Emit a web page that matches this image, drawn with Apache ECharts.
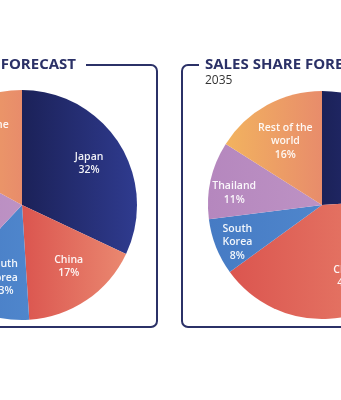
<!DOCTYPE html>
<html>
<head>
<meta charset="utf-8">
<script src="https://cdn.jsdelivr.net/npm/echarts@6/dist/echarts.min.js"></script>
<style>
html,body{margin:0;padding:0;background:#fff;}
#chart{width:341px;height:400px;}
</style>
</head>
<body>
<div id="chart"></div>
<script>
// ---- data ----
const categories = ['Japan', 'China', 'South Korea', 'Thailand', 'Rest of the world'];
const labelNames = ['Japan', 'China', 'South\nKorea', 'Thailand', 'Rest of the\nworld'];
const shareCurrent = [32, 17, 13, 21, 17];
const share2035 = [24, 41, 8, 11, 16];
const titleText = 'SALES SHARE FORECAST';
const subtitle2035 = '2035';

// ---- styles ----
const sliceColors = [
  ['#1b2158', '#2f3b8f'],
  ['#db554f', '#ea8870'],
  ['#467bc4', '#4f86cc'],
  ['#b587be', '#bd92c4'],
  ['#f2b35f', '#e88c6b']
];
const navy = '#2b3167';
const FONT = '"Open Sans", sans-serif';
// small label nudges [dx, dy] per slice (styling only)
const nudgeLeft = [[0, 1], [2, -4], [8, -2], [0, 0], [0, 2]];
const nudgeRight = [[0, 0], [0, 0], [0, 4], [1, 8], [0, 3]];

function grad(i) {
  return {type: 'linear', x: 0, y: 0, x2: 1, y2: 0,
    colorStops: [{offset: 0, color: sliceColors[i][0]}, {offset: 1, color: sliceColors[i][1]}]};
}
function pieData(vals) {
  return categories.map((c, i) => ({name: c, value: vals[i], itemStyle: {color: grad(i)}}));
}
function labelData(vals, showIdx) {
  return categories.map((c, i) => ({
    name: c, value: vals[i],
    label: {show: showIdx.indexOf(i) >= 0}
  }));
}
const labelStyle = {
  position: 'inside',
  color: 'rgba(255,255,255,0.93)',
  fontFamily: FONT,
  fontSize: 10.5,
  fontWeight: 600,
  lineHeight: 13.5,
  align: 'center',
  formatter: p => labelNames[p.dataIndex] + '\n' + p.value + '%'
};
function basePie(center, radius, vals) {
  return {
    type: 'pie', center: center, radius: radius, startAngle: 90, clockwise: true,
    silent: true, avoidLabelOverlap: false, label: {show: false}, labelLine: {show: false},
    emphasis: {disabled: true}, data: pieData(vals), animation: false
  };
}
function labelPie(center, radius, vals, showIdx, nudge) {
  return {
    type: 'pie', center: center, radius: radius, startAngle: 90, clockwise: true,
    silent: true, avoidLabelOverlap: false, label: labelStyle, labelLine: {show: false},
    labelLayout: p => ({dx: nudge[p.dataIndex][0], dy: nudge[p.dataIndex][1]}),
    itemStyle: {color: 'rgba(0,0,0,0)'}, emphasis: {disabled: true},
    data: labelData(vals, showIdx), animation: false
  };
}

const chart = echarts.init(document.getElementById('chart'), null, {renderer: 'canvas'});
chart.setOption({
  backgroundColor: '#ffffff',
  animation: false,
  graphic: [
    // left panel frame
    {type: 'rect', z: 1, shape: {x: -300, y: 65, width: 457, height: 262, r: 6},
     style: {fill: 'none', stroke: navy, lineWidth: 2}},
    {type: 'text', z: 2, x: 86, y: 65,
     style: {text: titleText, fill: navy, font: '700 15px ' + FONT, textAlign: 'right', textVerticalAlign: 'middle',
       backgroundColor: '#fff', padding: [2, 10, 2, 6]}},
    // right panel frame
    {type: 'rect', z: 1, shape: {x: 182, y: 65, width: 400, height: 262, r: 6},
     style: {fill: 'none', stroke: navy, lineWidth: 2}},
    {type: 'text', z: 2, x: 199, y: 65,
     style: {text: titleText, fill: navy, font: '700 15px ' + FONT, textAlign: 'left', textVerticalAlign: 'middle',
       backgroundColor: '#fff', padding: [2, 6, 2, 6]}},
    {type: 'text', z: 2, x: 205, y: 81,
     style: {text: subtitle2035, fill: '#333', font: '400 12px ' + FONT, textAlign: 'left', textVerticalAlign: 'middle'}}
  ],
  series: [
    basePie([22, 205], [0, 115], shareCurrent),
    labelPie([22, 205], [38, 115], shareCurrent, [0, 1, 2, 3, 4], nudgeLeft),
    basePie([322, 205], [0, 114], share2035),
    labelPie([322, 205], [32, 114], share2035, [0, 1, 4], nudgeRight),
    labelPie([322, 205], [62, 114], share2035, [2, 3], nudgeRight)
  ]
});
</script>
</body>
</html>
